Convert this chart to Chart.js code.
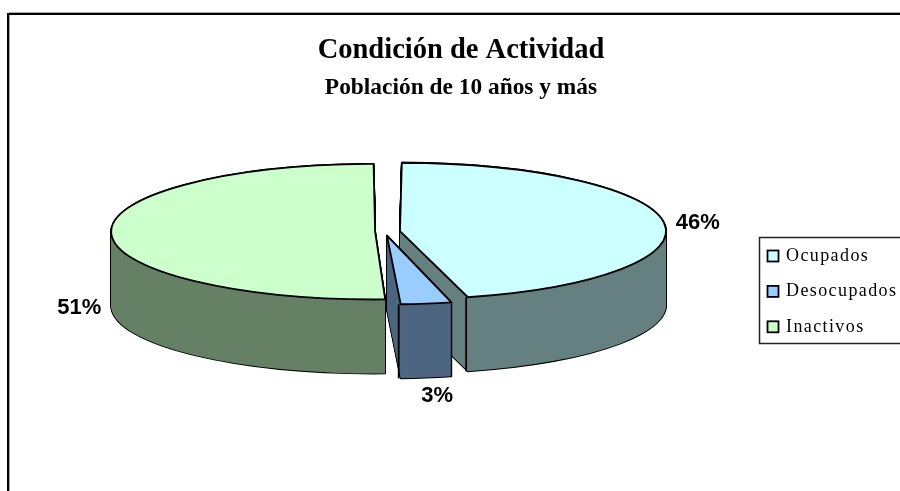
<!DOCTYPE html>
<html><head><meta charset="utf-8">
<style>html,body{margin:0;padding:0;background:#fff;overflow:hidden;width:900px;height:491px}canvas{display:block}</style>
<script src="https://cdn.jsdelivr.net/npm/chart.js@4"></script>
</head><body><canvas id="c" width="924" height="491"></canvas>
<script>
const categories = ["Ocupados", "Desocupados", "Inactivos"];
const values = [46, 3.3, 50.7];
const topColors = ["#CCFFFF", "#99CCFF", "#CCFFCC"];
const sideColors = ["#668080", "#4D6680", "#668066"];
const explode = [62, 64, 38];
const labelNudgeX = [1, 7, 1];
const titleText = "Condición de Actividad";
const subtitleText = "Población de 10 años y más";
const SQUASH = 0.257, DEPTH = 74;

function withEllipse(ctx, arc, dy, fn) {
  const stroke = ctx.stroke;
  ctx.save();
  ctx.translate(0, arc.y + dy);
  ctx.scale(1, SQUASH);
  ctx.translate(0, -arc.y);
  ctx.stroke = function () {
    ctx.save(); ctx.setTransform(1, 0, 0, 1, 0, 0);
    stroke.call(ctx); ctx.restore();
  };
  fn();
  delete ctx.stroke;
  ctx.restore();
}
function paint(ctx, arc, dy, fill, bw) {
  const o = arc.options;
  arc.options = Object.assign({}, o, {
    backgroundColor: fill, borderColor: "#000", borderWidth: bw, borderAlign: "center", borderJoinStyle: "round"
  });
  withEllipse(ctx, arc, dy, () => arc.draw(ctx));
  arc.options = o;
}
function rim(arc, angle) {
  const off = (arc.options.offset || 0) / 4;
  const mid = (arc.startAngle + arc.endAngle) / 2;
  const fix = 1 - Math.sin(Math.min(Math.PI, arc.circumference));
  const r = arc.outerRadius + off * fix;
  return {
    x: arc.x + Math.cos(mid) * off + Math.cos(angle) * r,
    y: arc.y + (Math.sin(mid) * off + Math.sin(angle) * r) * SQUASH
  };
}
const pie3d = {
  id: "pie3d",
  afterLayout(chart) {
    // title blocks span the full chart width, not just the plot area
    chart.boxes.forEach(b => { if (b.options && b.options.text) { b.left = 0; b.right = chart.width - 2; } });
  },
  beforeDraw(chart) {
    const c = chart.ctx;
    c.save();
    c.fillStyle = "#fff"; c.fillRect(0, 0, chart.width, chart.height);
    c.strokeStyle = "#aaa"; c.lineWidth = 1;
    c.strokeRect(9.5, 12.5, chart.width, chart.height + 20);
    c.strokeStyle = "#000"; c.lineWidth = 2;
    c.strokeRect(8, 14, chart.width - 16, chart.height + 20);
    c.restore();
  },
  beforeDatasetDraw(chart) {
    const c = chart.ctx, arcs = chart.getDatasetMeta(0).data;
    [2, 0, 1].forEach(i => {
      const a = arcs[i];
      for (let d = DEPTH; d >= 0; d--) paint(c, a, d, "#000", 1.8);
      for (let d = DEPTH; d >= 0; d--) paint(c, a, d, sideColors[i], 0);
      c.save(); c.strokeStyle = "#000"; c.lineWidth = 1.8;
      if (i < 2) {
        const p = rim(a, a.endAngle);
        c.beginPath(); c.moveTo(p.x, p.y); c.lineTo(p.x, p.y + DEPTH); c.stroke();
      }
      c.restore();
      paint(c, a, 0, topColors[i], 1.8);
    });
    return false;
  },
  afterDraw(chart) {
    const c = chart.ctx, arcs = chart.getDatasetMeta(0).data;
    c.save();
    c.fillStyle = "#000";
    c.font = "bold 22px 'Liberation Sans'";
    c.textAlign = "center"; c.textBaseline = "middle";
    arcs.forEach((a, i) => {
      const mid = (a.startAngle + a.endAngle) / 2;
      const p = rim(a, mid), t = Math.round(values[i]) + "%";
      const hw = c.measureText(t).width / 2 + 11, hh = 19;
      const x = p.x + Math.cos(mid) * hw + labelNudgeX[i];
      const y = p.y + (Math.sin(mid) > 0 ? Math.sin(mid) * hh + DEPTH : 0);
      c.fillText(t, x, y);
    });
    // legend
    const items = Chart.overrides.pie.plugins.legend.labels.generateLabels(chart);
    c.strokeStyle = "#222"; c.lineWidth = 1.5;
    c.strokeRect(759.5, 237.5, 170, 106);
    c.font = "18px 'Liberation Serif'";
    c.letterSpacing = "1.4px";
    c.textAlign = "left"; c.textBaseline = "middle";
    items.forEach((it, i) => {
      const y = 256 + i * 35.4;
      c.fillStyle = it.fillStyle; c.strokeStyle = "#000"; c.lineWidth = 1.8;
      c.fillRect(767.5, y - 5.5, 11, 11); c.strokeRect(767.5, y - 5.5, 11, 11);
      c.fillStyle = "#000";
      c.fillText(it.text, 786, y);
    });
    c.restore();
  }
};
new Chart(document.getElementById("c"), {
  type: "pie",
  data: { labels: categories, datasets: [{ data: values, backgroundColor: topColors, offset: explode, radius: 254.4, borderWidth: 0 }] },
  plugins: [pie3d],
  options: {
    responsive: false, animation: false, events: [],
    layout: { padding: { left: 0, right: 154.8, top: 0, bottom: 131 } },
    plugins: {
      legend: { display: false }, tooltip: { enabled: false },
      title: { display: true, text: titleText, color: "#000", font: { family: "'Liberation Serif'", size: 28.5, weight: "bold" }, padding: { top: 34, bottom: 3 } },
      subtitle: { display: true, text: subtitleText, color: "#000", font: { family: "'Liberation Serif'", size: 23.4, weight: "bold" }, padding: { top: 3, bottom: 1 } }
    }
  }
});
</script></body></html>
